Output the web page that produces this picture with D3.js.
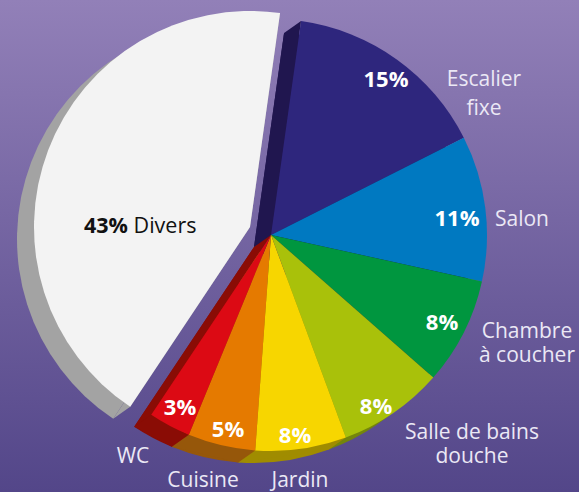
<!DOCTYPE html>
<html>
<head>
<meta charset="utf-8">
<script src="https://cdn.jsdelivr.net/npm/d3@7"></script>
<style>
html, body { margin: 0; padding: 0; }
svg { display: block; }
text { font-family: "Open Sans", sans-serif; }
</style>
</head>
<body>
<svg id="chart" width="579" height="492"></svg>
<script>
var categories = ["Escalier fixe", "Salon", "Chambre à coucher", "Salle de bains douche", "Jardin", "Cuisine", "WC", "Divers"]
var percentLabels = ["15%", "11%", "8%", "8%", "8%", "5%", "3%", "43%"]
// slice sizes as measured on the picture (the printed labels are rounded)
var sliceShares = [15.35, 10.9, 8.03, 7.9, 6.8, 5.05, 3.15, 42.9]
var sliceColors = ["#2e267d", "#0079c1", "#00963f", "#a9c10a", "#f7d600", "#e57a00", "#dc0a14", "#f3f3f3"]
var sideColors = ["#20164f", "#20164f", "#20164f", "#74850c", "#a08c00", "#96570a", "#8a0c05", "#a3a3a3"]

var cx = 271, cy = 235, radius = 216
var depthX = -17, depthY = 12
var explodeX = -21, explodeY = -8

var svg = d3.select("#chart")

var defs = svg.append("defs")
var grad = defs.append("linearGradient").attr("id", "bg")
	.attr("x1", 0).attr("y1", 0).attr("x2", 0).attr("y2", 1)
grad.append("stop").attr("offset", "0%").attr("stop-color", "#9280b8")
grad.append("stop").attr("offset", "100%").attr("stop-color", "#534689")

svg.append("rect").attr("width", 579).attr("height", 492).attr("fill", "url(#bg)")

var pie = d3.pie().sort(null).value(function(d){ return d })
	.startAngle(8 * Math.PI / 180)
	.endAngle(368 * Math.PI / 180)
var slices = pie(sliceShares)
var arc = d3.arc().innerRadius(0).outerRadius(radius)

function corner(angle){
	return [radius * Math.sin(angle), -radius * Math.cos(angle)]
}

// side walls first, front faces on top
var sides = svg.append("g").attr("transform", "translate(" + cx + "," + cy + ")")
slices.forEach(function(d, i){
	var g = sides.append("g")
	if (i == 7) g.attr("transform", "translate(" + explodeX + "," + explodeY + ")")
	g.append("path")
		.attr("d", arc(d))
		.attr("transform", "translate(" + depthX + "," + depthY + ")")
		.attr("fill", sideColors[i])
	// walls on the two cut edges
	;[d.startAngle, d.endAngle].forEach(function(a){
		var p = corner(a)
		if ((i == 0 && a == d.startAngle) || (i == 6 && a == d.endAngle) || i == 7) {
			g.append("path")
				.attr("d", d3.line()([[0, 0], p, [p[0] + depthX, p[1] + depthY], [depthX, depthY]]))
				.attr("fill", sideColors[i])
		}
	})
})
// bottom rim joining the dark copies to the faces
var rim = [3, 4, 5, 6]
rim.forEach(function(i){
	var d = slices[i]
	var a = corner(d.startAngle), b = corner(d.endAngle)
	sides.append("path")
		.attr("d", d3.line()([a, [a[0] + depthX, a[1] + depthY], [b[0] + depthX, b[1] + depthY], b]))
		.attr("fill", sideColors[i])
})

var faces = svg.append("g").attr("transform", "translate(" + cx + "," + cy + ")")
faces.selectAll("path")
	.data(slices)
	.enter()
	.append("path")
	.attr("d", arc)
	.attr("fill", function(d, i){ return sliceColors[i] })
	.attr("transform", function(d, i){
		return i == 7 ? "translate(" + explodeX + "," + explodeY + ")" : null
	})

// percent labels
var percentPos = [[386, 87], [457, 226], [442, 330], [376, 414], [295, 443], [228, 437], [180, 415]]
svg.selectAll(".pct")
	.data(percentPos)
	.enter()
	.append("text")
	.attr("class", "pct")
	.attr("x", function(d){ return d[0] })
	.attr("y", function(d){ return d[1] })
	.attr("text-anchor", "middle")
	.attr("font-size", 22)
	.attr("font-weight", 700)
	.attr("fill", "#fff")
	.text(function(d, i){ return percentLabels[i] })

var divers = svg.append("text").attr("x", 84).attr("y", 233).attr("font-size", 21.5).attr("fill", "#111")
divers.append("tspan").attr("font-weight", 700).text(percentLabels[7])
divers.append("tspan").text(" Divers")

// outside category labels
var nameLines = [["Escalier", "fixe"], ["Salon"], ["Chambre", "à coucher"], ["Salle de bains", "douche"], ["Jardin"], ["Cuisine"], ["WC"]]
var namePos = [[484, 86, 29], [522, 226, 0], [527, 338, 24], [472, 439, 24], [300, 487, 0], [203, 487, 0], [133, 463, 0]]
nameLines.forEach(function(lines, i){
	var t = svg.append("text")
		.attr("text-anchor", "middle")
		.attr("font-size", 21)
		.attr("fill", "#ebe8f5")
	lines.forEach(function(s, k){
		t.append("tspan")
			.attr("x", namePos[i][0])
			.attr("y", namePos[i][1] + k * namePos[i][2])
			.text(s)
	})
})
</script>
</body>
</html>
